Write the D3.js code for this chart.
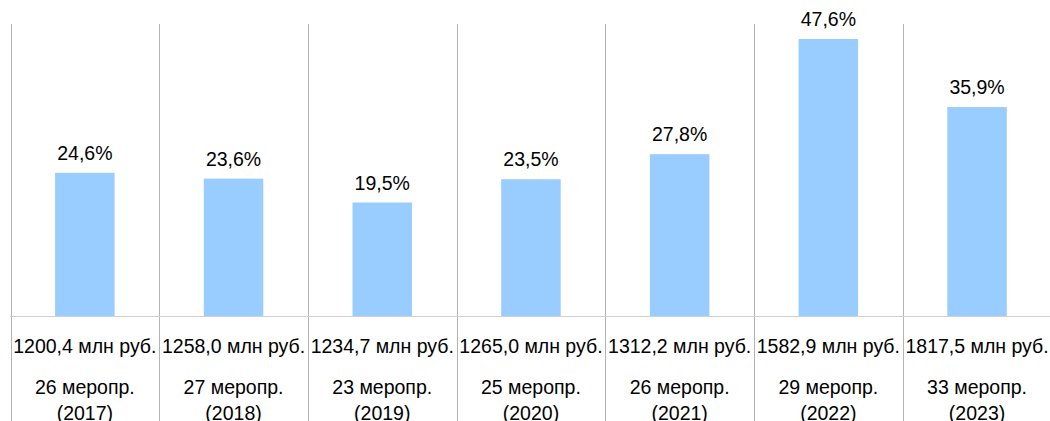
<!DOCTYPE html>
<html>
<head>
<meta charset="utf-8">
<script src="https://cdn.jsdelivr.net/npm/d3@7"></script>
<style>
  html, body { margin: 0; padding: 0; background: #fff; }
  svg text { font-family: "Liberation Sans", Arial, sans-serif; fill: #000; }
</style>
</head>
<body>
<div id="chart"></div>
<script>
const years = ['2017', '2018', '2019', '2020', '2021', '2022', '2023'];
const shares = [24.6, 23.6, 19.5, 23.5, 27.8, 47.6, 35.9];
const amounts = ['1200,4', '1258,0', '1234,7', '1265,0', '1312,2', '1582,9', '1817,5'];
const events = [26, 27, 23, 25, 26, 29, 33];

const width = 1050;
const height = 421;
const baseY = 316;

const svg = d3.select('#chart').append('svg')
  .attr('width', width)
  .attr('height', height);

const x = d3.scaleBand().domain(years).range([10.5, 1051.4]).padding(0);
const y = d3.scaleLinear().domain([0, 50]).range([baseY, 25]);
const barW = x.bandwidth() * 0.4;

// vertical separators between categories
const bounds = years.map((d) => x(d)).concat([x.range()[1]]);
svg.append('g')
  .selectAll('line')
  .data(bounds)
  .join('line')
  .attr('x1', (d) => Math.round(d) + 0.5)
  .attr('x2', (d) => Math.round(d) + 0.5)
  .attr('y1', y(50) - 1)
  .attr('y2', height)
  .attr('stroke', '#b4b4b4')
  .attr('stroke-width', 1);

// baseline
svg.append('line')
  .attr('x1', 10)
  .attr('x2', width)
  .attr('y1', baseY + 0.5)
  .attr('y2', baseY + 0.5)
  .attr('stroke', '#d0d0d0');

svg.append('g')
  .selectAll('rect')
  .data(shares)
  .join('rect')
  .attr('x', (d, i) => x(years[i]) + (x.bandwidth() - barW) / 2)
  .attr('y', (d) => y(d))
  .attr('width', barW)
  .attr('height', (d) => baseY - y(d))
  .attr('fill', '#99ccff');

svg.append('g')
  .selectAll('text')
  .data(shares)
  .join('text')
  .attr('x', (d, i) => x(years[i]) + x.bandwidth() / 2)
  .attr('y', (d) => y(d) - 13)
  .attr('text-anchor', 'middle')
  .attr('font-size', 19.5)
  .text((d) => d.toFixed(1).replace('.', ',') + '%');

const labels = svg.append('g')
  .selectAll('g')
  .data(years)
  .join('g')
  .attr('transform', (d) => `translate(${x(d) + x.bandwidth() / 2},0)`)
  .attr('text-anchor', 'middle')
  .attr('font-size', 19.5);

labels.append('text').attr('y', 352.5).text((d, i) => `${amounts[i]} млн руб.`);
labels.append('text').attr('y', 393.5).text((d, i) => `${events[i]} меропр.`);
labels.append('text').attr('y', 419.5).text((d) => `(${d})`);
</script>
</body>
</html>
